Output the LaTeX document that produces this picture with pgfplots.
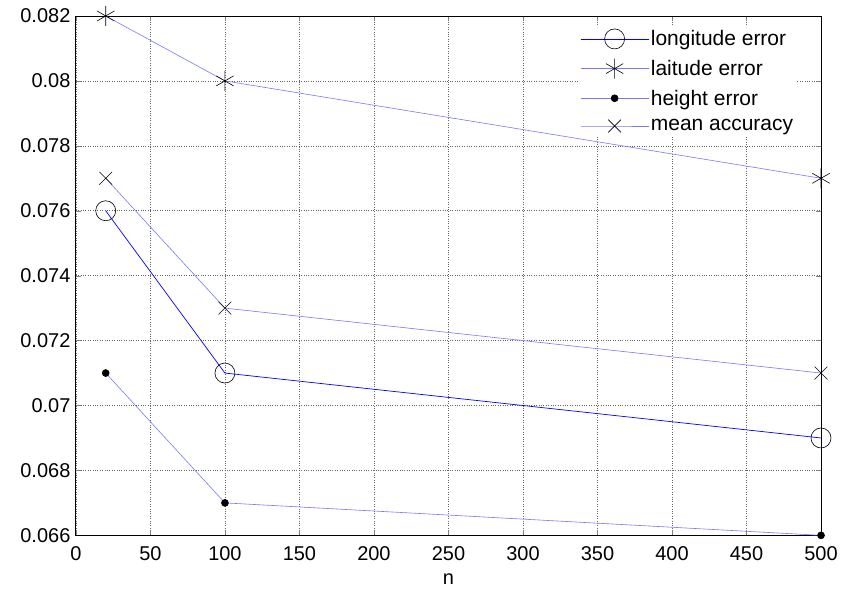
\documentclass[border=0pt]{standalone}
\usepackage{pgfplots}
\pgfplotsset{compat=1.18}
\usepackage{fontspec}
\setmainfont{Liberation Sans}
\definecolor{mblue}{RGB}{0,0,255}
\definecolor{lblue}{RGB}{120,120,255}

\begin{document}
\begin{tikzpicture}
\begin{axis}[
  name=ax,
  scale only axis, width=746pt, height=520pt,
  xmin=0, xmax=500, ymin=0.066, ymax=0.082,
  xtick={0,50,...,500},
  ytick={0.066,0.068,...,0.0821},
  scaled y ticks=false,
  yticklabel style={/pgf/number format/fixed, /pgf/number format/precision=3, xshift=-2pt},
  /pgf/number format/assume math mode=true,
  tick label style={font=\fontsize{20}{22}\selectfont},
  label style={font=\fontsize{20}{22}\selectfont},
  xlabel={n},
  xlabel style={yshift=-6pt},
  xticklabel style={yshift=-8pt},
  tick align=inside, tick pos=both,
  major tick length=5pt,
  grid=major,
  grid style={black!60, dotted, line width=0.6pt},
  axis line style={line width=0.9pt},
  legend style={at={(rel axis cs:0.674,0.98)}, anchor=north west,
    draw=none, fill=white, font=\fontsize{21}{23}\selectfont,
    row sep=9pt, inner sep=2pt},
  legend cell align=left,
  legend image code/.code={
    \draw[mark repeat=2,mark phase=2,#1] plot coordinates {(0pt,0pt) (34pt,0pt) (68pt,0pt)};},
]
\addplot[mblue, line width=0.7pt, mark=o, mark size=10pt, mark options={black, solid, line width=0.6pt}]
  coordinates {(20,0.076)(100,0.071)(500,0.069)};
\addplot[lblue, line width=0.6pt, mark=asterisk, mark size=10pt, mark options={black, solid, line width=0.6pt}]
  coordinates {(20,0.082)(100,0.080)(500,0.077)};
\addplot[lblue, line width=0.6pt, mark=*, mark size=3.5pt, mark options={black, fill=black, solid}]
  coordinates {(20,0.071)(100,0.067)(500,0.066)};
\addplot[lblue, line width=0.6pt, mark=x, mark size=9pt, mark options={black, solid, line width=0.6pt}]
  coordinates {(20,0.077)(100,0.073)(500,0.071)};
\legend{longitude error, laitude error, height error, mean accuracy}
\end{axis}
\path (ax.south west) ++(-76pt,-54pt) (ax.north east) ++(19pt,16pt);
\end{tikzpicture}
\end{document}
